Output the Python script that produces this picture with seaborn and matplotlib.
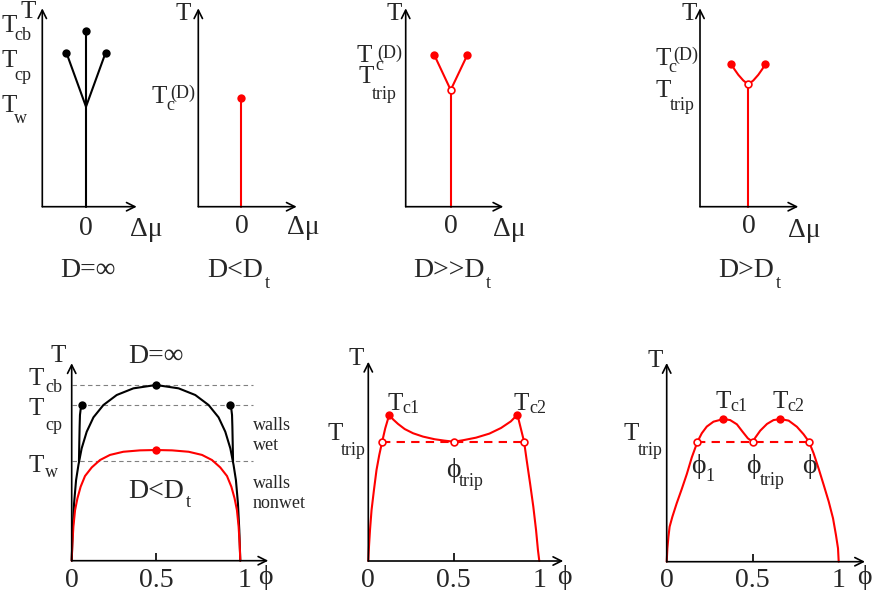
import seaborn as sns
import matplotlib.pyplot as plt

sns.set_style('white')
plt.rcParams['font.family'] = ['Liberation Serif', 'DejaVu Serif']

W, H = 872, 590
RED = '#ff0000'

# ---- top row: T vs delta mu ----
mu_stem = [0.0, 0.0]

T_stem_inf = [0.0, 1.76]
mu_arms_inf = [-0.98, 0.0, 0.98]
T_arms_inf = [1.54, 1.0, 1.54]
mu_crit_inf = [0.0, -0.98, 0.98]
T_crit_inf = [1.76, 1.54, 1.54]

T_stem_small = [0.0, 1.084]

T_stem_large = [0.0, 1.167]
mu_arms_large = [-0.82, 0.0, 0.83]
T_arms_large = [1.517, 1.167, 1.517]

T_stem_mid = [0.0, 1.224]
mu_arms_mid = [-0.85, -0.7, -0.5, -0.25, 0.0, 0.25, 0.5, 0.7, 0.85]
T_arms_mid = [1.427, 1.376, 1.319, 1.262, 1.224, 1.262, 1.319, 1.376, 1.427]

# ---- bottom row: T vs phi ----
phi_dome = [0, .006, .014, .026, .040, .059, .089, .129, .188, .267, .366, .5,
            .634, .733, .812, .871, .911, .941, .960, .974, .986, .994, 1.0]
T_dome = [0, .175, .326, .459, .545, .639, .734, .816, .886, .943, .981, 1.0,
          .981, .943, .886, .816, .734, .639, .545, .459, .326, .175, 0]
phi_wet_left = [.043, .045, .047, .049, .053, .063]
phi_wet_right = [.957, .955, .953, .951, .947, .937]
T_wet = [.567, .668, .763, .829, .861, .886]
phi_red_dome = [0, .004, .010, .020, .034, .053, .079, .119, .168, .227, .306, .405, .5,
                .595, .694, .773, .832, .881, .921, .947, .966, .980, .990, .996, 1.0]
T_red_dome = [0, .099, .194, .288, .355, .421, .482, .531, .573, .602, .620, .628, .630,
              .628, .620, .602, .573, .531, .482, .421, .355, .288, .194, .099, 0]
T_levels = [1.0, .886, .567]
phi_crit_inf = [.5, .063, .937]
T_crit_bulk = [1.0, .886, .886]

phi_large = [0, .004, .010, .019, .033, .048, .064, .081, .099, .122, .145, .174, .213,
             .262, .320, .388, .446, .5, .552, .630, .708, .776, .834, .872, .911,
             .926, .946, .965, .981, .992, 1.0]
T_large = [0, .082, .177, .290, .404, .518, .603, .679, .755, .831, .806, .780, .751,
           .727, .708, .693, .685, .679, .687, .702, .725, .757, .795, .833, .679,
           .575, .442, .309, .176, .063, 0]
phi_crit_large = [.122, .872]
T_crit_large = [.833, .833]
phi_trip_large = [.081, .5, .911]
T_trip_large = .679

phi_mid = [0, .004, .010, .017, .033, .058, .087, .117, .146, .179, .204, .233, .272,
           .330, .369, .408, .441, .472, .5, .515, .544, .583, .621, .660, .709, .757,
           .796, .827, .854, .883, .913, .942, .967, .984, .996, 1.0]
T_mid = [0, .076, .142, .199, .256, .332, .412, .499, .594, .683, .731, .769, .797,
         .812, .806, .782, .740, .702, .683, .706, .746, .784, .806, .812, .803, .768,
         .725, .683, .617, .531, .436, .342, .247, .152, .076, 0]
phi_crit_mid = [.330, .660]
T_crit_mid = [.812, .812]
phi_trip_mid = [.179, .5, .827]
T_trip_mid = .683

phi_ticks = [0, 0.5, 1]
phi_ticklabels = ['0', '0.5', '1']

PHI = '\u03d5'

fig = plt.figure(figsize=(W / 100, H / 100), dpi=100)


def panel(x0, y0, sx, sy, xlim, ylim):
    # x0, y0: pixel position of the data origin, sx, sy: pixels per unit
    left = x0 + xlim[0] * sx
    bottom = H - y0 + ylim[0] * sy
    ax = fig.add_axes([left / W, bottom / H,
                       (xlim[1] - xlim[0]) * sx / W, (ylim[1] - ylim[0]) * sy / H])
    ax.set_xlim(xlim)
    ax.set_ylim(ylim)
    ax.axis('off')
    arrow = dict(arrowstyle='->,head_length=0.6,head_width=0.3', lw=1.2,
                 color='black', shrinkA=0, shrinkB=0)
    ax.annotate('', xy=(xlim[1], 0), xytext=(xlim[0], 0), arrowprops=arrow,
                annotation_clip=False)
    ax.annotate('', xy=(xlim[0], ylim[1]), xytext=(xlim[0], 0), arrowprops=arrow,
                annotation_clip=False)
    return ax


def curve(ax, x, y, color, lw=1.5, ls='-'):
    sns.lineplot(x=x, y=y, ax=ax, color=color, lw=lw, linestyle=ls,
                 sort=False, estimator=None, clip_on=False)


def dots(ax, x, y, color, open_=False, s=36):
    if open_:
        sns.scatterplot(x=x, y=y, ax=ax, color='white', edgecolor=color, s=24,
                        linewidth=1.2, zorder=5, clip_on=False)
    else:
        sns.scatterplot(x=x, y=y, ax=ax, color=color, edgecolor=color, s=s,
                        linewidth=0, zorder=5, clip_on=False)


def txt(x, y, s, size=18, ha='left'):
    fig.text(x / W, 1 - y / H, s, fontsize=size, ha=ha, va='baseline')


# D = infinity (T, delta mu)
ax = panel(86, 206.7, 20, 100, (-2.185, 2.535), (0, 1.984))
curve(ax, mu_stem, T_stem_inf, 'black')
curve(ax, mu_arms_inf, T_arms_inf, 'black')
dots(ax, mu_crit_inf, T_crit_inf, 'black')

# D < Dt
ax = panel(240.7, 206.7, 20, 100, (-2.12, 2.8), (0, 1.984))
curve(ax, mu_stem, T_stem_small, RED)
dots(ax, [0.0], [T_stem_small[1]], RED)

# D >> Dt
ax = panel(450.7, 206.7, 20, 100, (-2.25, 2.63), (0, 1.984))
curve(ax, mu_stem, T_stem_large, RED)
curve(ax, mu_arms_large, T_arms_large, RED)
dots(ax, [mu_arms_large[0], mu_arms_large[2]], [T_arms_large[0], T_arms_large[2]], RED)
dots(ax, [0.0], [T_stem_large[1]], RED, open_=True)

# D > Dt
ax = panel(748.3, 206.7, 20, 100, (-2.415, 2.5), (0, 1.984))
curve(ax, mu_stem, T_stem_mid, RED)
curve(ax, mu_arms_mid, T_arms_mid, RED)
dots(ax, [mu_arms_mid[0], mu_arms_mid[-1]], [T_arms_mid[0], T_arms_mid[-1]], RED)
dots(ax, [0.0], [T_stem_mid[1]], RED, open_=True)

# bulk + capillary, T vs phi
ax = panel(71.7, 560.7, 168.6, 175.7, (0, 1.166), (0, 1.124))
ax.hlines(T_levels, 0, 1.075, colors='#808080', lw=0.8, linestyles=(0, (4, 3)))
curve(ax, phi_dome, T_dome, 'black')
curve(ax, phi_wet_left, T_wet, 'black')
curve(ax, phi_wet_right, T_wet, 'black')
curve(ax, phi_red_dome, T_red_dome, RED)
dots(ax, phi_crit_inf, T_crit_bulk, 'black')
dots(ax, [0.5], [max(T_red_dome)], RED)
ax.vlines(0.5, 0, 0.045, colors='black', lw=1.2)

# D >> Dt, T vs phi
ax = panel(368.3, 561, 171, 175.7, (0, 1.14), (0, 1.134))
curve(ax, phi_large, T_large, RED)
curve(ax, [phi_trip_large[0], phi_trip_large[-1]], [T_trip_large] * 2, RED, ls=(0, (4, 3)))
dots(ax, phi_crit_large, T_crit_large, RED)
dots(ax, phi_trip_large, [T_trip_large] * 3, RED, open_=True)
ax.vlines(0.5, 0, 0.045, colors='black', lw=1.2)

# D > Dt, T vs phi
ax = panel(666.7, 561.7, 172, 175.7, (0, 1.153), (0, 1.131))
curve(ax, phi_mid, T_mid, RED)
curve(ax, [phi_trip_mid[0], phi_trip_mid[-1]], [T_trip_mid] * 2, RED, ls=(0, (4, 3)))
dots(ax, phi_crit_mid, T_crit_mid, RED)
dots(ax, phi_trip_mid, [T_trip_mid] * 3, RED, open_=True)
ax.vlines(0.5, 0, 0.045, colors='black', lw=1.2)

# ---- labels, top row ----
SUB = 13
BIG = 20
txt(20.7, 18.3, 'T')
txt(1, 31.7, 'T'); txt(14, 40, 'cb', SUB)
txt(1, 66.7, 'T'); txt(14, 80, 'cp', SUB)
txt(1, 111.7, 'T'); txt(14, 123.3, 'w', SUB)
txt(86, 235, '0', BIG, ha='center')
txt(130, 236, 'Δμ', BIG)
txt(88, 277, 'D=∞', BIG, ha='center')

txt(175, 20, 'T')
txt(151.7, 103.3, 'T'); txt(166.7, 110, 'c', SUB); txt(170.7, 98, '(D)', SUB)
txt(242, 233, '0', BIG, ha='center')
txt(286.7, 234, 'Δμ', BIG)
txt(207, 277, 'D<D', BIG); txt(265, 288, 't', SUB)

txt(386.7, 20, 'T')
txt(356.7, 61.7, 'T'); txt(375.5, 70, 'c', SUB); txt(377.5, 58, '(D)', SUB)
txt(358, 83.3, 'T'); txt(371.7, 99, 'trip', SUB)
txt(451, 233, '0', BIG, ha='center')
txt(493, 236, 'Δμ', BIG)
txt(413, 277, 'D>>D', BIG); txt(486, 288, 't', SUB)

txt(681.7, 20, 'T')
txt(655, 65, 'T'); txt(668, 71.7, 'c', SUB); txt(673, 60, '(D)', SUB)
txt(655, 96.7, 'T'); txt(670, 110, 'trip', SUB)
txt(749, 233, '0', BIG, ha='center')
txt(788, 237, 'Δμ', BIG)
txt(718, 277, 'D>D', BIG); txt(776, 288, 't', SUB)

# ---- labels, bottom row ----
txt(50, 361.7, 'T')
txt(128.3, 363.3, 'D=∞', BIG)
txt(28.3, 385, 'T'); txt(45, 391.7, 'cb', SUB)
txt(28.3, 415, 'T'); txt(45, 430, 'cp', SUB)
txt(28.3, 471.7, 'T'); txt(45, 476.7, 'w', SUB)
txt(253, 430, 'walls', 13); txt(253, 450, 'wet', 13)
txt(253, 488, 'walls', 13); txt(253, 508, 'nonwet', 13)
txt(128.3, 498, 'D<D', BIG); txt(186, 506.7, 't', SUB)

txt(348, 365, 'T')
txt(387, 410, 'T'); txt(402, 413, 'c1', SUB)
txt(513, 410, 'T'); txt(529, 413, 'c2', SUB)
txt(327, 440, 'T'); txt(341, 455, 'trip', SUB)
txt(446, 477, PHI, BIG); txt(459, 486, 'trip', SUB)

txt(647, 366.7, 'T')
txt(715, 408, 'T'); txt(730, 411, 'c1', SUB)
txt(772, 408, 'T'); txt(787, 411, 'c2', SUB)
txt(623, 440, 'T'); txt(638, 455, 'trip', SUB)
txt(691, 473, PHI, BIG); txt(705, 481, '1', SUB)
txt(746, 473, PHI, BIG); txt(760, 485, 'trip', SUB)
txt(802, 473, PHI, BIG)

for x0, sx, xphi in [(71.7, 168.6, 258), (368.3, 171, 557), (666.7, 172, 857)]:
    for v, lab in zip(phi_ticks, phi_ticklabels):
        txt(x0 + v * sx + (4 if v == 1 and x0 < 100 else 0), 587, lab, BIG, ha='center')
    txt(xphi, 584, PHI, BIG)

fig.savefig('out.png', dpi=100)
